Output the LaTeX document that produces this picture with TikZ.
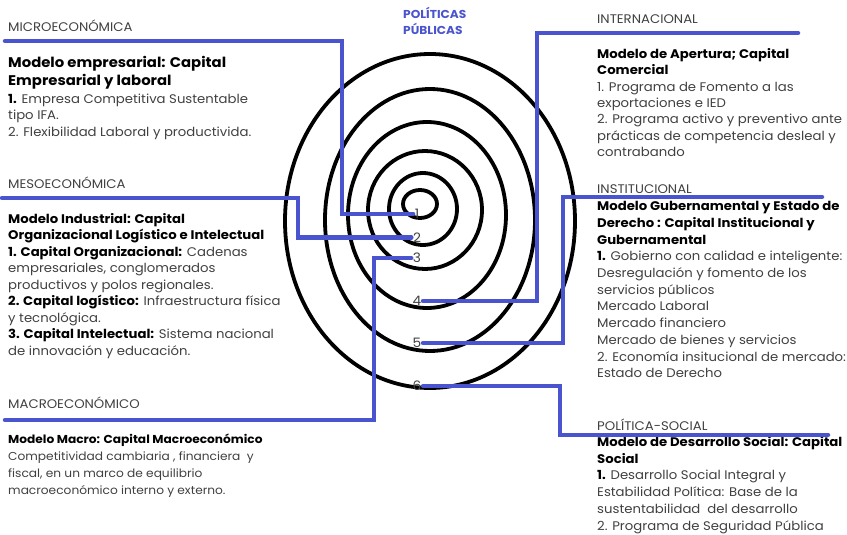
\documentclass[tikz,border=0pt]{standalone}
\usepackage{fontspec}
\setmainfont{Poppins}[FakeStretch=1.06]
\definecolor{linkblue}{RGB}{74,84,206}
\definecolor{txtgray}{RGB}{64,64,64}
\newcommand{\hi}[1]{\textcolor{black}{\bfseries #1}}
\tikzset{
  ring/.style={draw=black, line width=3.8pt},
  link/.style={draw=linkblue, line width=4.5pt, line cap=round},
  num/.style={font=\fontsize{13}{13}\selectfont, text=txtgray, inner sep=1.5pt},
  sector/.style={font=\fontsize{12.5}{12.5}\selectfont, text=txtgray, anchor=base west, inner sep=0pt},
  block/.style={align=left, anchor=base west, inner sep=0pt, text=txtgray},
}
\begin{document}
\begin{tikzpicture}[x=1pt, y=-1pt]
  \useasboundingbox (0,0) rectangle (847,535);

  \draw[ring] (430,221) ellipse [x radius=145, y radius=167];
  \draw[ring] (430,220) ellipse [x radius=105, y radius=131];
  \draw[ring] (427,215) ellipse [x radius=79, y radius=93];
  \draw[ring] (425,210) ellipse [x radius=57, y radius=59];
  \draw[ring] (423,209) ellipse [x radius=34, y radius=36];
  \draw[ring] (420,204) ellipse [x radius=17, y radius=14];

  % blocks are placed at the baseline of their last line
  \node[font=\fontsize{11.5}{16}\selectfont\bfseries, text=linkblue, align=left, anchor=base west, inner sep=0pt] (title) at (403,35) {POLÍTICAS\\PÚBLICAS};

  \node[num] (n1) at (417,214) {1};
  \node[num] (n2) at (417,237.5) {2};
  \node[num] (n3) at (417,258) {3};
  \node[num] (n4) at (417,301) {4};
  \node[num] (n5) at (417,343) {5};
  \node[num] (n6) at (417,386) {6};

  % left side
  \node[sector] (micro) at (8,32) {MICROECONÓMICA};
  \node[block, font=\fontsize{14}{18}\selectfont\bfseries, text=black] (microT) at (8,86) {Modelo empresarial: Capital\\Empresarial y laboral};
  \node[block, font=\fontsize{12.5}{16.8}\selectfont] (microB) at (8,136.7) {\hi{1.} Empresa Competitiva Sustentable\\tipo IFA.\\2. Flexibilidad Laboral y productivida.};

  \node[sector] (meso) at (8,188) {MESOECONÓMICA};
  \node[block, font=\fontsize{12.5}{16.5}\selectfont] (mesoB) at (8,355) {\hi{Modelo Industrial: Capital}\\\hi{Organizacional Logístico e Intelectual}\\\hi{1. Capital Organizacional:} Cadenas\\empresariales, conglomerados\\productivos y polos regionales.\\\hi{2. Capital logístico:} Infraestructura física\\y tecnológica.\\\hi{3. Capital Intelectual:} Sistema nacional\\de innovación y educación.};

  \node[sector] (macro) at (8,408) {MACROECONÓMICO};
  \node[block, font=\fontsize{11.5}{16.7}\selectfont] (macroB) at (8,494) {\hi{Modelo Macro: Capital Macroeconómico}\\Competitividad cambiaria , financiera\ \ y\\fiscal, en un marco de equilibrio\\macroeconómico interno y externo.};

  % right side
  \node[sector] (inter) at (597,24) {INTERNACIONAL};
  \node[block, font=\fontsize{12.5}{16.5}\selectfont] (interB) at (597,157) {\hi{Modelo de Apertura; Capital}\\\hi{Comercial}\\1. Programa de Fomento a las\\exportaciones e IED\\2. Programa activo y preventivo ante\\prácticas de competencia desleal y\\contrabando};

  \node[sector] (inst) at (597,193) {INSTITUCIONAL};
  \node[block, font=\fontsize{12.5}{16.7}\selectfont] (instB) at (597,377.7) {\hi{Modelo Gubernamental y Estado de}\\\hi{Derecho : Capital Institucional y}\\\hi{Gubernamental}\\\hi{1.} Gobierno con calidad e inteligente:\\Desregulación y fomento de los\\servicios públicos\\Mercado Laboral\\Mercado financiero\\Mercado de bienes y servicios\\2. Economía insitucional de mercado:\\Estado de Derecho};

  \node[sector] (social) at (597,430) {POLÍTICA-SOCIAL};
  \node[block, font=\fontsize{12.5}{16.7}\selectfont] (socialB) at (597,530) {\hi{Modelo de Desarrollo Social: Capital}\\\hi{Social}\\\hi{1.} Desarrollo Social Integral y\\Estabilidad Política: Base de la\\sustentabilidad\ \ del desarrollo\\2. Programa de Seguridad Pública};

  % connectors
  \coordinate (microL) at (5,41);
  \coordinate (microC) at (342,41);
  \coordinate (mesoL) at (2,198);
  \coordinate (mesoC) at (298,198);
  \coordinate (macroL) at (5,420);
  \coordinate (macroC) at (374,420);
  \coordinate (interR) at (798,33);
  \coordinate (interC) at (537,33);
  \coordinate (instR) at (822,197);
  \coordinate (instC) at (563,197);
  \coordinate (socialR) at (828,435);
  \coordinate (socialC) at (560,435);

  \draw[link] (microL) -- (microC) |- (n1.west);
  \draw[link] (mesoL) -- (mesoC) |- (n2.west);
  \draw[link] (n3.west) -| (macroC) -- (macroL);
  \draw[link] (n4.east) -| (interC) -- (interR);
  \draw[link] (n5.east) -| (instC) -- (instR);
  \draw[link] (n6.east) -| (socialC) -- (socialR);
\end{tikzpicture}
\end{document}
